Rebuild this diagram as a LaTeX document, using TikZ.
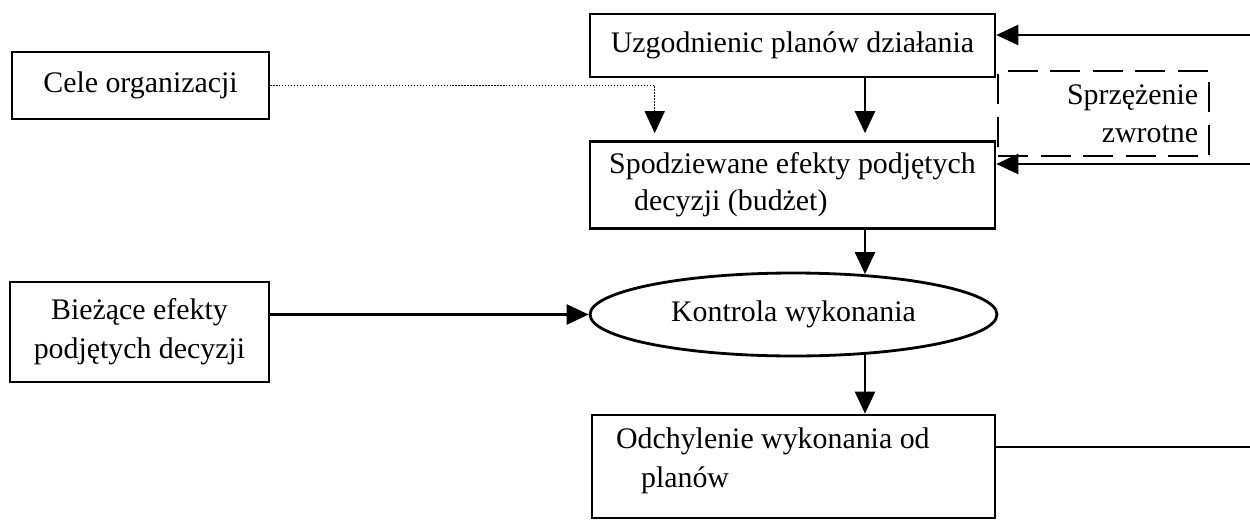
\documentclass[tikz,border=0pt]{standalone}
\usepackage{fontspec}
\setmainfont{Liberation Serif}
\usetikzlibrary{shapes.geometric,arrows.meta,positioning}

\tikzset{
  box/.style={draw, rectangle, line width=1.5pt, inner sep=0pt},
  oval/.style={draw, ellipse, line width=1.6pt, inner sep=0pt,
    minimum width=8.14cm, minimum height=1.66cm},
  arr/.style={line width=1.3pt, -{Triangle[length=0.44cm,width=0.4cm]}},
  fbbox/.style={draw, line width=1.3pt, dash pattern=on 0.6cm off 0.25cm}
}

\begin{document}
\begin{tikzpicture}[x=0.02cm, y=-0.02cm, font=\fontsize{17}{22}\selectfont]
\useasboundingbox (0,0) rectangle (1250,521);

% boxes on the left
\node[box, minimum width=5.14cm, minimum height=1.34cm] (cele) at (140.5,85.5) {Cele organizacji};
\node[box, minimum width=5.18cm, minimum height=2cm, align=center] (biez) at (139.5,332)
    {Bieżące efekty\\podjętych decyzji};

% middle column
\node[box, minimum width=8.1cm, minimum height=1.26cm] (uzg) at (792.5,45.5) {Uzgodnienic planów działania};
\node[box, minimum width=8.1cm, minimum height=1.74cm, align=left] (spod) at (792.5,185)
    {Spodziewane efekty podjętych\\[-1pt]\hspace*{0.5cm}decyzji (budżet)};
\node[oval] (kontr) at (793.5,314.5) {Kontrola wykonania};
\node[box, minimum width=8.06cm, minimum height=2.06cm] (odch) at (793.5,466.5) {};
\node[anchor=north west, align=left, inner sep=0pt] (odchtxt) at ([shift={(25,14)}]odch.north west)
    {Odchylenie wykonania od\\\hspace*{0.5cm}planów};

% feedback box
\node[fbbox, anchor=north west, minimum width=4.22cm, minimum height=1.7cm,
      inner sep=0.22cm, text width=3.78cm, align=right] (fb) at (997,70) {Sprzężenie\\zwrotne};

% connectors
\coordinate (col) at (865,0);
\coordinate (fbtop) at (1250,35);
\coordinate (fbmid) at (1250,164);
\coordinate (fbout) at (1250,447);

\draw[arr, line width=0.7pt, densely dotted, shorten >=0.14cm] (cele.east) -| ([xshift=1.32cm]spod.north west);
\draw[arr, shorten >=0.14cm] (uzg.south -| col) -- (spod.north -| col);
\draw[arr, shorten >=-0.05cm] (spod.south -| col) -- (kontr.north -| col);
\draw[arr, shorten <=-0.05cm] (kontr.south -| col) -- (odch.north -| col);
\draw[arr] (biez.east |- kontr.west) -- (kontr.west);

% feedback lines
\draw[arr] (fbtop) -- (uzg.east |- fbtop);
\draw[arr] (fbmid) -- (spod.east |- fbmid);
\draw[line width=1.3pt] (odch.east |- fbout) -- (fbout);
\end{tikzpicture}
\end{document}
